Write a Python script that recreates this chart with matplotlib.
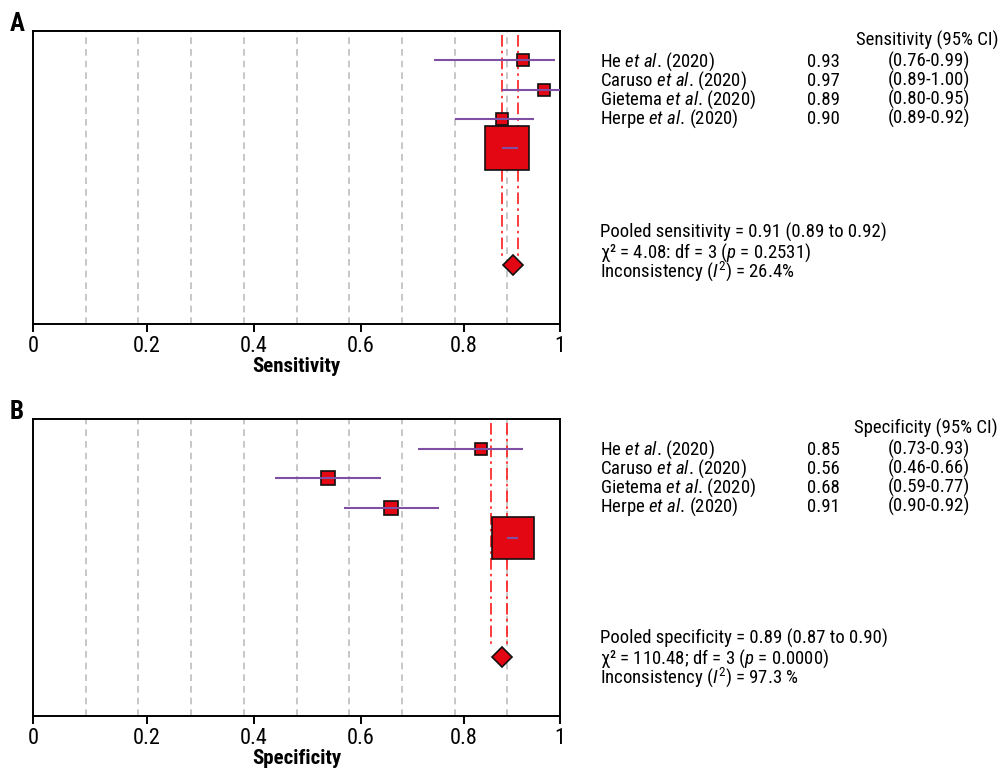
import matplotlib
matplotlib.use("Agg")

import matplotlib.pyplot as plt
from matplotlib import font_manager as fm
import numpy as np


studies = ["He", "Caruso", "Gietema", "Herpe"]
years = ["2020", "2020", "2020", "2020"]

sens = [0.93, 0.97, 0.89, 0.90]
sens_lo = [0.76, 0.89, 0.80, 0.89]
sens_hi = [0.99, 1.00, 0.95, 0.92]
sens_weight = [7, 7, 7, 79]
pooled_sens = [0.91, 0.89, 0.92]
sens_stats = ["4.08: df = 3", "0.2531", "26.4%"]

spec = [0.85, 0.56, 0.68, 0.91]
spec_lo = [0.73, 0.46, 0.59, 0.90]
spec_hi = [0.93, 0.66, 0.77, 0.92]
spec_weight = [7, 9, 9, 75]
pooled_spec = [0.89, 0.87, 0.90]
spec_stats = ["110.48; df = 3", "0.0000", "97.3 %"]

tick_labels = ["0", "0.2", "0.4", "0.6", "0.8", "1"]


def pick_font():
    # the source uses a condensed face; take the first condensed one found
    cands = ["Roboto Condensed", "Liberation Sans Narrow",
             "Noto Sans Condensed", "Open Sans Condensed",
             "DejaVu Sans Condensed", "Noto Sans", "Open Sans", "Roboto"]
    for fam in cands:
        for st in ["condensed", "semi-condensed", "normal"]:
            try:
                path = fm.findfont(fm.FontProperties(family=fam, stretch=st),
                                   fallback_to_default=False)
            except ValueError:
                continue
            low = path.lower()
            if "condensed" in low or "narrow" in low:
                for f in fm.fontManager.ttflist:
                    if f.fname == path:
                        return f.name, f.stretch
    return "Roboto", "normal"


FAM, STRETCH = pick_font()
plt.rcParams["font.family"] = [FAM, "DejaVu Sans"]
plt.rcParams["font.stretch"] = STRETCH
plt.rcParams["mathtext.fontset"] = "custom"
plt.rcParams["mathtext.rm"] = f"{FAM}:stretch={STRETCH}"
plt.rcParams["mathtext.it"] = f"{FAM}:italic:stretch={STRETCH}"

W, H = 1002, 769
RED = "#e30613"
LINE_RED = "#ff1a1a"
PURPLE = "#7e4fa3"
GRID = "#bdbdbd"
FS = 13.5


def fx(x):
    return x / W


def fy(y):
    return 1 - y / H


def put(fig, x, y, s, ha="left"):
    fig.text(fx(x), fy(y), s, fontsize=FS, ha=ha, va="baseline")


def panel(fig, top, bottom, letter, name, est, lo, hi, weight, pooled,
          stats, head_y, pooled_y):
    ax = fig.add_axes([fx(33), fy(bottom), fx(560) - fx(33),
                       fy(top) - fy(bottom)])
    ax.set_xlim(0, 1)
    ax.set_ylim(10, 0)

    for g in np.arange(1, 10) / 10:
        ax.axvline(g, color=GRID, lw=1.2, ls=(0, (4, 3)), zorder=1)

    ax.vlines(pooled[1:], 0.15, 7.7, color=LINE_RED, lw=1.2,
              ls=(0, (7, 2.5, 1.5, 2.5)), zorder=2)

    rows = np.arange(1, len(est) + 1)
    for r, e, w in zip(rows, est, weight):
        ax.plot(e, r, marker="s", ms=3.5 * np.sqrt(w), mfc=RED,
                mec="#111111", mew=1.2, zorder=3)
    ax.hlines(rows, lo, hi, color=PURPLE, lw=1.5, zorder=4)

    ax.plot(pooled[0], 8, marker="D", ms=10.5, mfc=RED, mec="#111111",
            mew=1.2, zorder=5)

    ax.set_yticks([])
    # tick labels sit where the source figure puts them
    ax.set_xticks([0, 0.216, 0.419, 0.622, 0.818, 1.0])
    ax.set_xticklabels(tick_labels, fontsize=16)
    ax.tick_params(axis="x", direction="out", length=6, width=1.4, pad=3)
    for s in ax.spines.values():
        s.set_linewidth(1.4)
    ax.set_xlabel(name, fontsize=15, fontweight="bold", labelpad=0)

    fig.text(fx(10), fy(top - 7), letter, fontsize=18, fontweight="bold",
             ha="left", va="center")

    put(fig, 998, head_y, f"{name} (95% CI)", ha="right")
    for i, (s, yr, e, l, h) in enumerate(zip(studies, years, est, lo, hi)):
        y = head_y + 21 + 19 * i
        put(fig, 600, y, rf"{s} $\mathit{{et\ al}}$. ({yr})")
        put(fig, 807, y, f"{e:.2f}")
        put(fig, 970, y, f"({l:.2f}-{h:.2f})", ha="right")

    lines = [
        f"Pooled {name.lower()} = {pooled[0]:.2f} "
        f"({pooled[1]:.2f} to {pooled[2]:.2f})",
        f"χ² = {stats[0]} ($\\mathit{{p}}$ = {stats[1]})",
        f"Inconsistency ($\\mathit{{I}}^2$) = {stats[2]}",
    ]
    for i, t in enumerate(lines):
        put(fig, 600, pooled_y + 19.5 * i, t)
    return ax


def main():
    fig = plt.figure(figsize=(W / 100, H / 100), dpi=100)

    panel(fig, 31, 324, "A", "Sensitivity", sens, sens_lo, sens_hi,
          sens_weight, pooled_sens, sens_stats, 46, 238)
    panel(fig, 419, 716, "B", "Specificity", spec, spec_lo, spec_hi,
          spec_weight, pooled_spec, spec_stats, 434, 644)

    fig.savefig("out.png", dpi=100)
    plt.close(fig)


if __name__ == "__main__":
    main()
